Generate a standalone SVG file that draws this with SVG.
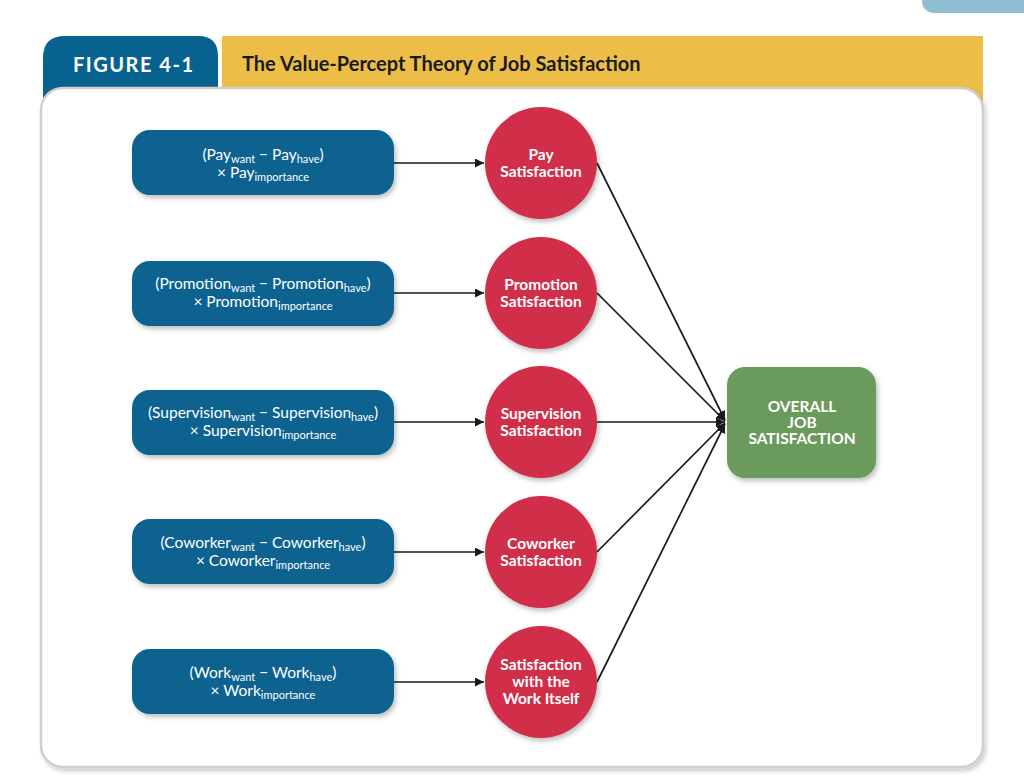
<svg xmlns="http://www.w3.org/2000/svg" width="1024" height="783" viewBox="0 0 1024 783">
<defs>
<filter id="sh" x="-10%" y="-10%" width="130%" height="140%"><feDropShadow dx="2" dy="3" stdDeviation="2.5" flood-color="#000" flood-opacity="0.25"/></filter>
<filter id="psh" x="-5%" y="-5%" width="110%" height="110%"><feDropShadow dx="2" dy="3" stdDeviation="2" flood-color="#000" flood-opacity="0.2"/></filter>
<marker id="ah" viewBox="0 0 10 10" refX="10" refY="5" markerWidth="9" markerHeight="9" markerUnits="userSpaceOnUse" orient="auto"><path d="M0,0 L10,5 L0,10 z" fill="#1a1a1a"/></marker>
</defs>
<style>
.box{fill:#07628f;filter:url(#sh)}
.circ{fill:#d12f48;filter:url(#sh)}
.bt{font-family:Lato,"Open Sans",sans-serif;font-size:15.5px;fill:#fff;text-anchor:middle}
.sub{font-size:11px}
.ct{font-family:Lato,"Open Sans",sans-serif;font-size:15.5px;font-weight:bold;fill:#fff;text-anchor:middle}
.con{stroke:#1a1a1a;stroke-width:1.7;fill:none;marker-end:url(#ah)}
</style>
<rect width="1024" height="783" fill="#fff"/>
<rect x="922" y="-20" width="120" height="33" rx="12" fill="#8dbfd0"/>
<g id="header">
<rect x="222" y="36" width="761" height="80" fill="#edbe47"/>
<path d="M43,116 L43,58 Q43,36 65,36 L198,36 Q218,36 218,56 L218,116 z" fill="#07628f"/>
<text x="73" y="72" font-family="Lato,'Open Sans',sans-serif" font-size="20" font-weight="bold" letter-spacing="1.5" fill="#fff">FIGURE 4-1</text>
<text x="242" y="71" font-family="Lato,'Open Sans',sans-serif" font-size="20" font-weight="bold" fill="#1a1a1a">The Value-Percept Theory of Job Satisfaction</text>
</g>
<rect x="41" y="88" width="942" height="679" rx="22" fill="#fff" stroke="#d3cec9" stroke-width="2.5" filter="url(#psh)"/>
<g id="connectors">
<line class="con" x1="394" y1="163" x2="484" y2="163"/>
<line class="con" x1="394" y1="293" x2="484" y2="293"/>
<line class="con" x1="394" y1="422" x2="484" y2="422"/>
<line class="con" x1="394" y1="552" x2="484" y2="552"/>
<line class="con" x1="394" y1="682" x2="484" y2="682"/>
<line class="con" x1="597" y1="163" x2="725" y2="420"/>
<line class="con" x1="597" y1="293" x2="725" y2="421"/>
<line class="con" x1="597" y1="422" x2="725" y2="422"/>
<line class="con" x1="597" y1="552" x2="725" y2="423"/>
<line class="con" x1="597" y1="682" x2="725" y2="424"/>
</g>
<g id="pay-formula">
<rect class="box" x="132" y="130" width="262" height="65" rx="18"/>
<text class="bt" x="263" y="160">(Pay<tspan class="sub" dy="3">want</tspan><tspan dy="-3"> − Pay</tspan><tspan class="sub" dy="3">have</tspan><tspan dy="-3">)</tspan></text>
<text class="bt" x="263" y="178">× Pay<tspan class="sub" dy="3">importance</tspan></text>
</g>
<g id="promotion-formula">
<rect class="box" x="132" y="261" width="262" height="65" rx="18"/>
<text class="bt" x="263" y="289">(Promotion<tspan class="sub" dy="3">want</tspan><tspan dy="-3"> − Promotion</tspan><tspan class="sub" dy="3">have</tspan><tspan dy="-3">)</tspan></text>
<text class="bt" x="263" y="307">× Promotion<tspan class="sub" dy="3">importance</tspan></text>
</g>
<g id="supervision-formula">
<rect class="box" x="132" y="390" width="262" height="65" rx="18"/>
<text class="bt" x="263" y="418">(Supervision<tspan class="sub" dy="3">want</tspan><tspan dy="-3"> − Supervision</tspan><tspan class="sub" dy="3">have</tspan><tspan dy="-3">)</tspan></text>
<text class="bt" x="263" y="436">× Supervision<tspan class="sub" dy="3">importance</tspan></text>
</g>
<g id="coworker-formula">
<rect class="box" x="132" y="519" width="262" height="65" rx="18"/>
<text class="bt" x="263" y="548">(Coworker<tspan class="sub" dy="3">want</tspan><tspan dy="-3"> − Coworker</tspan><tspan class="sub" dy="3">have</tspan><tspan dy="-3">)</tspan></text>
<text class="bt" x="263" y="566">× Coworker<tspan class="sub" dy="3">importance</tspan></text>
</g>
<g id="work-formula">
<rect class="box" x="132" y="649" width="262" height="65" rx="18"/>
<text class="bt" x="263" y="678">(Work<tspan class="sub" dy="3">want</tspan><tspan dy="-3"> − Work</tspan><tspan class="sub" dy="3">have</tspan><tspan dy="-3">)</tspan></text>
<text class="bt" x="263" y="696">× Work<tspan class="sub" dy="3">importance</tspan></text>
</g>
<g id="pay-satisfaction">
<circle class="circ" cx="541" cy="163" r="56"/>
<text class="ct" x="541" y="160">Pay</text>
<text class="ct" x="541" y="177">Satisfaction</text>
</g>
<g id="promotion-satisfaction">
<circle class="circ" cx="541" cy="293" r="56"/>
<text class="ct" x="541" y="290">Promotion</text>
<text class="ct" x="541" y="307">Satisfaction</text>
</g>
<g id="supervision-satisfaction">
<circle class="circ" cx="541" cy="422" r="56"/>
<text class="ct" x="541" y="419">Supervision</text>
<text class="ct" x="541" y="436">Satisfaction</text>
</g>
<g id="coworker-satisfaction">
<circle class="circ" cx="541" cy="552" r="56"/>
<text class="ct" x="541" y="549">Coworker</text>
<text class="ct" x="541" y="566">Satisfaction</text>
</g>
<g id="work-satisfaction">
<circle class="circ" cx="541" cy="682" r="56"/>
<text class="ct" x="541" y="670">Satisfaction</text>
<text class="ct" x="541" y="687">with the</text>
<text class="ct" x="541" y="704">Work Itself</text>
</g>
<g id="overall">
<rect x="727" y="367" width="149" height="111" rx="18" fill="#6b9a5b" filter="url(#sh)"/>
<text class="ct" x="802" y="412">OVERALL</text>
<text class="ct" x="802" y="428">JOB</text>
<text class="ct" x="802" y="444">SATISFACTION</text>
</g>
</svg>
